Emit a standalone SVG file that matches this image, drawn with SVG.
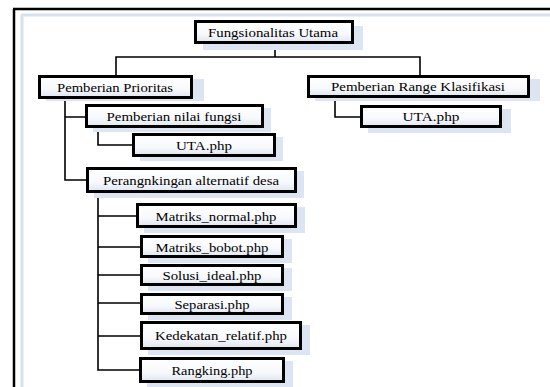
<svg xmlns="http://www.w3.org/2000/svg" width="550" height="387" viewBox="0 0 550 387">
<defs>
<linearGradient id="g" x1="0" y1="0" x2="0" y2="1">
<stop offset="0" stop-color="#ffffff"/>
<stop offset="0.6" stop-color="#f7f9fc"/>
<stop offset="1" stop-color="#dfe6f0"/>
</linearGradient>
<style>
.box{fill:url(#g);stroke:#000;stroke-width:3}
.sh{fill:#dce5f1}
.t{font-family:'Liberation Serif','Times New Roman',serif;font-size:12px;fill:#000;text-anchor:middle}
.c{fill:none;stroke:#000;stroke-width:1.6}
</style>
</defs>
<rect width="550" height="387" fill="#fff"/>
<g id="frame">
<line x1="13" y1="9" x2="550" y2="9" stroke="#000" stroke-width="2.5"/>
<line x1="14" y1="9" x2="14" y2="387" stroke="#000" stroke-width="2.5"/>
<line x1="21" y1="15" x2="550" y2="15" stroke="#d6e1ef" stroke-width="3"/>
<line x1="22" y1="15" x2="22" y2="387" stroke="#d6e1ef" stroke-width="3"/>
</g>
<g id="connectors">
<path class="c" d="M275 44V57M116 75V57H420V75"/>
<path class="c" d="M65 99V180H87M65 117H86"/>
<path class="c" d="M98 128V145H133"/>
<path class="c" d="M335 98V117H361"/>
<path class="c" d="M98 193V370H140M98 216H137M98 247H141M98 275H141M98 303H141M98 336H141"/>
</g>
<g id="n1"><rect class="sh" x="203" y="26" width="160" height="24"/><rect class="box" x="195.5" y="21.5" width="157" height="21"/><text class="t" x="273" y="36.5" textLength="130" lengthAdjust="spacingAndGlyphs">Fungsionalitas Utama</text></g>
<g id="n2"><rect class="sh" x="46" y="79" width="158" height="22"/><rect class="box" x="39.5" y="76.5" width="152" height="21"/><text class="t" x="115" y="91.5" textLength="116" lengthAdjust="spacingAndGlyphs">Pemberian Prioritas</text></g>
<g id="n3"><rect class="sh" x="315" y="79" width="225" height="22"/><rect class="box" x="308.5" y="76.5" width="220" height="20"/><text class="t" x="418" y="91" textLength="174" lengthAdjust="spacingAndGlyphs">Pemberian Range Klasifikasi</text></g>
<g id="n4"><rect class="sh" x="93" y="108" width="178" height="24"/><rect class="box" x="86.5" y="105.5" width="176" height="21"/><text class="t" x="174" y="120.5" textLength="135" lengthAdjust="spacingAndGlyphs">Pemberian nilai fungsi</text></g>
<g id="n5"><rect class="sh" x="140" y="137" width="143" height="24"/><rect class="box" x="133.5" y="134.5" width="141" height="21"/><text class="t" x="204" y="149.5" textLength="56" lengthAdjust="spacingAndGlyphs">UTA.php</text></g>
<g id="n6"><rect class="sh" x="368" y="109" width="143" height="24"/><rect class="box" x="361.5" y="106.5" width="139" height="20"/><text class="t" x="431" y="121" textLength="57" lengthAdjust="spacingAndGlyphs">UTA.php</text></g>
<g id="n7"><rect class="sh" x="94" y="171" width="210" height="27"/><rect class="box" x="87.5" y="168.5" width="208" height="23"/><text class="t" x="191" y="184.5" textLength="176" lengthAdjust="spacingAndGlyphs">Perangnkingan alternatif desa</text></g>
<g id="n8"><rect class="sh" x="144" y="207" width="161" height="26"/><rect class="box" x="137.5" y="204.5" width="158" height="22"/><text class="t" x="216" y="220.5" textLength="121" lengthAdjust="spacingAndGlyphs">Matriks_normal.php</text></g>
<g id="n9"><rect class="sh" x="148" y="239" width="144" height="24"/><rect class="box" x="141.5" y="236.5" width="141" height="20"/><text class="t" x="212" y="251.5" textLength="113" lengthAdjust="spacingAndGlyphs">Matriks_bobot.php</text></g>
<g id="n10"><rect class="sh" x="148" y="268" width="144" height="23"/><rect class="box" x="141.5" y="265.5" width="141" height="19"/><text class="t" x="212" y="279.5" textLength="99" lengthAdjust="spacingAndGlyphs">Solusi_ideal.php</text></g>
<g id="n11"><rect class="sh" x="148" y="297" width="144" height="23"/><rect class="box" x="141.5" y="294.5" width="141" height="19"/><text class="t" x="212" y="308.5" textLength="75" lengthAdjust="spacingAndGlyphs">Separasi.php</text></g>
<g id="n12"><rect class="sh" x="148" y="325" width="162" height="30"/><rect class="box" x="141.5" y="322.5" width="159" height="26"/><text class="t" x="221" y="339.5" textLength="132" lengthAdjust="spacingAndGlyphs">Kedekatan_relatif.php</text></g>
<g id="n13"><rect class="sh" x="147" y="361" width="146" height="26"/><rect class="box" x="140.5" y="358.5" width="143" height="23"/><text class="t" x="212" y="374.5" textLength="81" lengthAdjust="spacingAndGlyphs">Rangking.php</text></g>
</svg>
